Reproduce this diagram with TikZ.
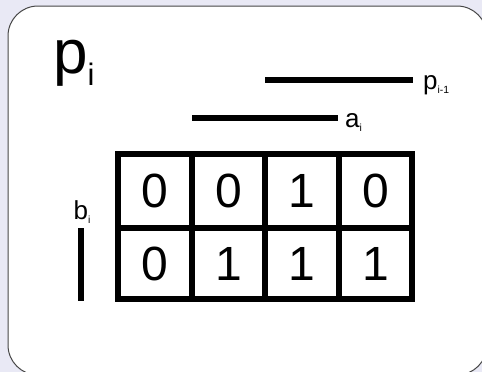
\documentclass[tikz,border=0pt]{standalone}
\usepackage{fontspec}
\setmainfont{Liberation Sans}
\usepackage{graphicx}
\usepackage{xcolor}
\definecolor{bgpanel}{RGB}{233,233,245}
\definecolor{framegray}{RGB}{70,70,70}
\newcommand{\lowsub}[2][0.4]{\raisebox{-0.18em}{\scalebox{#1}{#2}}}
\begin{document}
\begin{tikzpicture}[x=1pt,y=-1pt,line cap=butt,
  digit/.style={inner sep=0pt,font=\fontsize{48}{48}\selectfont},
  lbl/.style={anchor=base west,inner sep=0pt,font=\fontsize{26}{26}\selectfont},
  bar/.style={line width=5.5pt}]
\useasboundingbox (0,0) rectangle (482,372);
\fill[bgpanel] (0,0) rectangle (482,372);
\draw[framegray,fill=white,line width=1pt,rounded corners=30pt] (8,6) rectangle (487,375);
% title
\node[anchor=base west,inner sep=0pt,font=\fontsize{62}{62}\selectfont] (title) at (53,73) {p\lowsub[0.5]{\raisebox{-0.04em}{i}}};
% variable bars
\coordinate (pprev-a) at (265,80);
\coordinate (pprev-b) at (413,80);
\draw[bar] (pprev-a) -- (pprev-b);
\node[lbl] (pprev) at (423,89) {p\lowsub{i-1}};
\coordinate (a-a) at (192,118);
\coordinate (a-b) at (338,118);
\draw[bar] (a-a) -- (a-b);
\node[lbl] (alab) at (345,127) {a\lowsub{i}};
\coordinate (b-a) at (81,228);
\coordinate (b-b) at (81,301);
\draw[bar] (b-a) -- (b-b);
\node[lbl] (blab) at (73.5,219) {b\lowsub{i}};
% map grid
\draw[bar] (118,154) rectangle (412,299);
\draw[bar] (118,228) -- (412,228);
\draw[bar] (192,154) -- (192,299);
\draw[bar] (265,154) -- (265,299);
\draw[bar] (339,154) -- (339,299);
% cells
\node[digit] (c00) at (155,191) {0};
\node[digit] (c01) at (228.5,191) {0};
\node[digit] (c02) at (302,191) {1};
\node[digit] (c03) at (375.5,191) {0};
\node[digit] (c10) at (155,263.5) {0};
\node[digit] (c11) at (228.5,263.5) {1};
\node[digit] (c12) at (302,263.5) {1};
\node[digit] (c13) at (375.5,263.5) {1};
\end{tikzpicture}
\end{document}
